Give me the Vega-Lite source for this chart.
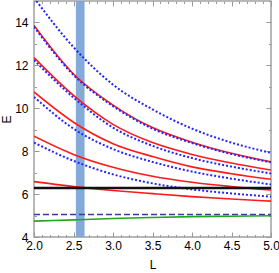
{
  "$schema": "https://vega.github.io/schema/vega-lite/v6.json",
  "width": 237,
  "height": 236,
  "autosize": "none",
  "padding": {"left": 34, "top": 1, "right": 8, "bottom": 36},
  "config": {
    "view": {"stroke": "#a0a0a0", "strokeWidth": 1.5},
    "font": "Liberation Sans",
    "axis": {"grid": false, "domain": false, "tickColor": "#999999", "labelColor": "#000000", "labelFont": "Liberation Sans", "titleFont": "Liberation Sans", "labelFontSize": 12, "titleFontSize": 12, "titleFontWeight": "normal", "labelFlush": false, "labelOverlap": false}
  },
  "data": {"values": [
    {"s":"b1","L":2.0,"E":15.15},{"s":"b1","L":2.5,"E":12.85},{"s":"b1","L":3.0,"E":11.1},{"s":"b1","L":3.5,"E":9.95},{"s":"b1","L":4.0,"E":9.05},{"s":"b1","L":4.5,"E":8.4},{"s":"b1","L":5.0,"E":7.92},
    {"s":"r1","L":2.0,"E":13.86},{"s":"r1","L":2.5,"E":11.6},{"s":"r1","L":3.0,"E":10.15},{"s":"r1","L":3.5,"E":9.1},{"s":"r1","L":4.0,"E":8.42},{"s":"r1","L":4.5,"E":7.9},{"s":"r1","L":5.0,"E":7.5},
    {"s":"b2","L":2.0,"E":13.8},{"s":"b2","L":2.5,"E":11.55},{"s":"b2","L":3.0,"E":10.1},{"s":"b2","L":3.5,"E":9.05},{"s":"b2","L":4.0,"E":8.38},{"s":"b2","L":4.5,"E":7.87},{"s":"b2","L":5.0,"E":7.48},
    {"s":"r2","L":2.0,"E":12.36},{"s":"r2","L":2.5,"E":10.6},{"s":"r2","L":3.0,"E":9.25},{"s":"r2","L":3.5,"E":8.4},{"s":"r2","L":4.0,"E":7.85},{"s":"r2","L":4.5,"E":7.45},{"s":"r2","L":5.0,"E":7.12},
    {"s":"b3","L":2.0,"E":12.25},{"s":"b3","L":2.5,"E":10.5},{"s":"b3","L":3.0,"E":9.1},{"s":"b3","L":3.5,"E":8.25},{"s":"b3","L":4.0,"E":7.68},{"s":"b3","L":4.5,"E":7.28},{"s":"b3","L":5.0,"E":6.96},
    {"s":"r3","L":2.0,"E":10.76},{"s":"r3","L":2.5,"E":9.35},{"s":"r3","L":3.0,"E":8.35},{"s":"r3","L":3.5,"E":7.75},{"s":"r3","L":4.0,"E":7.27},{"s":"r3","L":4.5,"E":6.95},{"s":"r3","L":5.0,"E":6.69},
    {"s":"b4","L":2.0,"E":10.53},{"s":"b4","L":2.5,"E":9.05},{"s":"b4","L":3.0,"E":8.1},{"s":"b4","L":3.5,"E":7.5},{"s":"b4","L":4.0,"E":7.05},{"s":"b4","L":4.5,"E":6.72},{"s":"b4","L":5.0,"E":6.45},
    {"s":"r4","L":2.0,"E":8.7},{"s":"r4","L":2.5,"E":7.85},{"s":"r4","L":3.0,"E":7.25},{"s":"r4","L":3.5,"E":6.83},{"s":"r4","L":4.0,"E":6.55},{"s":"r4","L":4.5,"E":6.35},{"s":"r4","L":5.0,"E":6.19},
    {"s":"b5","L":2.0,"E":8.4},{"s":"b5","L":2.5,"E":7.55},{"s":"b5","L":3.0,"E":6.92},{"s":"b5","L":3.5,"E":6.5},{"s":"b5","L":4.0,"E":6.22},{"s":"b5","L":4.5,"E":6.03},{"s":"b5","L":5.0,"E":5.88},
    {"s":"r5","L":2.0,"E":6.58},{"s":"r5","L":2.5,"E":6.35},{"s":"r5","L":3.0,"E":6.17},{"s":"r5","L":3.5,"E":6.02},{"s":"r5","L":4.0,"E":5.88},{"s":"r5","L":4.5,"E":5.77},{"s":"r5","L":5.0,"E":5.67},
    {"s":"black","L":2.0,"E":6.28},{"s":"black","L":5.0,"E":6.28},
    {"s":"dash","L":2.0,"E":5.05},{"s":"dash","L":5.0,"E":5.05},
    {"s":"green","L":2.0,"E":4.74},{"s":"green","L":2.5,"E":4.8},{"s":"green","L":3.0,"E":4.86},{"s":"green","L":3.5,"E":4.91},{"s":"green","L":4.0,"E":4.95},{"s":"green","L":4.5,"E":4.97},{"s":"green","L":5.0,"E":4.99}
  ]},
  "resolve": {"axis": {"x": "independent", "y": "independent"}},
  "layer": [
    {
      "data": {"values": [{"L0": 2.53, "L1": 2.64}]},
      "mark": {"type": "rect", "color": "#7ca5d6", "opacity": 0.95},
      "encoding": {
        "x": {"field": "L0", "type": "quantitative", "scale": {"domain": [2, 5], "nice": false, "zero": false}, "axis": null},
        "x2": {"field": "L1"}
      }
    },
    {
      "transform": [{"filter": {"field": "s", "oneOf": ["r1","r2","r3","r4","r5"]}}],
      "mark": {"type": "line", "color": "#ff1a1a", "strokeWidth": 1.6, "interpolate": "monotone", "clip": true},
      "encoding": {
        "x": {"field": "L", "type": "quantitative", "scale": {"domain": [2, 5], "nice": false, "zero": false},
          "axis": {"orient": "bottom", "values": [2, 2.5, 3, 3.5, 4, 4.5, 5], "format": ".1f", "tickSize": -5, "labelPadding": 8, "title": "L", "titlePadding": 8}},
        "y": {"field": "E", "type": "quantitative", "scale": {"domain": [4, 15], "nice": false, "zero": false},
          "axis": {"orient": "left", "values": [4, 6, 8, 10, 12, 14], "tickSize": -5, "labelPadding": 11, "title": "E", "titlePadding": 1}},
        "detail": {"field": "s"}
      }
    },
    {
      "transform": [{"filter": {"field": "s", "oneOf": ["b1","b2","b3","b4","b5"]}}],
      "mark": {"type": "line", "color": "#2424ff", "strokeWidth": 2, "strokeDash": [2, 2], "interpolate": "monotone", "clip": true},
      "encoding": {
        "x": {"field": "L", "type": "quantitative", "axis": null},
        "y": {"field": "E", "type": "quantitative", "axis": null},
        "detail": {"field": "s"}
      }
    },
    {
      "transform": [{"filter": {"field": "s", "equal": "black"}}],
      "mark": {"type": "line", "color": "#111111", "strokeWidth": 2.5},
      "encoding": {
        "x": {"field": "L", "type": "quantitative", "axis": null},
        "y": {"field": "E", "type": "quantitative", "axis": null}
      }
    },
    {
      "transform": [{"filter": {"field": "s", "equal": "dash"}}],
      "mark": {"type": "line", "color": "#3a3a99", "strokeWidth": 1.6, "strokeDash": [6, 3]},
      "encoding": {
        "x": {"field": "L", "type": "quantitative", "axis": null},
        "y": {"field": "E", "type": "quantitative", "axis": null}
      }
    },
    {
      "transform": [{"filter": {"field": "s", "equal": "green"}}],
      "mark": {"type": "line", "color": "#1fa81f", "strokeWidth": 1.6, "interpolate": "monotone"},
      "encoding": {
        "x": {"field": "L", "type": "quantitative", "axis": null},
        "y": {"field": "E", "type": "quantitative", "axis": null}
      }
    },
    {
      "mark": {"type": "point", "opacity": 0},
      "encoding": {
        "x": {"field": "L", "type": "quantitative",
          "axis": {"orient": "top", "values": [2, 2.5, 3, 3.5, 4, 4.5, 5], "tickSize": -5, "labels": false, "title": null}},
        "y": {"field": "E", "type": "quantitative",
          "axis": {"orient": "right", "values": [4, 6, 8, 10, 12, 14], "tickSize": -5, "labels": false, "title": null}}
      }
    },
    {
      "mark": {"type": "point", "opacity": 0},
      "encoding": {
        "x": {"field": "L", "type": "quantitative",
          "axis": {"orient": "bottom", "values": [2.1,2.2,2.3,2.4,2.6,2.7,2.8,2.9,3.1,3.2,3.3,3.4,3.6,3.7,3.8,3.9,4.1,4.2,4.3,4.4,4.6,4.7,4.8,4.9], "tickSize": -2.5, "labels": false, "title": null}},
        "y": {"field": "E", "type": "quantitative",
          "axis": {"orient": "left", "values": [5, 7, 9, 11, 13, 15], "tickSize": -2.5, "labels": false, "title": null}}
      }
    },
    {
      "mark": {"type": "point", "opacity": 0},
      "encoding": {
        "x": {"field": "L", "type": "quantitative",
          "axis": {"orient": "top", "values": [2.1,2.2,2.3,2.4,2.6,2.7,2.8,2.9,3.1,3.2,3.3,3.4,3.6,3.7,3.8,3.9,4.1,4.2,4.3,4.4,4.6,4.7,4.8,4.9], "tickSize": -2.5, "labels": false, "title": null}},
        "y": {"field": "E", "type": "quantitative",
          "axis": {"orient": "right", "values": [5, 7, 9, 11, 13, 15], "tickSize": -2.5, "labels": false, "title": null}}
      }
    }
  ]
}
